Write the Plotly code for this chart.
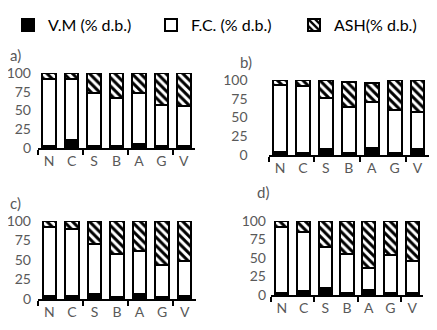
import plotly.graph_objects as go

categories = ["N", "C", "S", "B", "A", "G", "V"]

# panel a
vm_a = [3, 11, 3, 3, 6, 3, 3]
fc_a = [89, 81, 70, 63.5, 67, 54, 53]
ash_a = [8, 8, 27, 33.5, 27, 43, 44]
# panel b
vm_b = [3.5, 3, 7.5, 3, 9, 3, 7.5]
fc_b = [89.5, 89, 68, 60.5, 62, 57, 50.5]
ash_b = [7, 8, 24.5, 34.3, 25.4, 40, 42]
# panel c
vm_c = [3.4, 4, 7, 3, 7, 3, 4]
fc_c = [88.6, 86, 63.6, 55, 55, 41, 45]
ash_c = [8, 10, 29.4, 42, 38, 56, 51]
# panel d
vm_d = [3, 5, 10, 3, 7, 3, 3]
fc_d = [88.4, 80.6, 55, 53, 29, 51, 43]
ash_d = [8.6, 14.4, 35, 44, 64, 46, 54]

panels = [
    ("a)", vm_a, fc_a, ash_a),
    ("b)", vm_b, fc_b, ash_b),
    ("c)", vm_c, fc_c, ash_c),
    ("d)", vm_d, fc_d, ash_d),
]

OFF = 8  # page body margin
W, H = 437 - OFF, 330 - OFF
# pixel layout in window coords: (x0, x1, y_bottom, y_top)
boxes = [
    (38, 195, 148, 73),
    (268.6, 429, 155, 80),
    (38, 196, 299, 221),
    (271, 423, 295, 221),
]
label_pos = [(8, 55), (238, 62), (8, 203), (255, 192)]
ystandoff = [6, 20, 6, 4]

GRAY = "#595959"
FONT = "Lato"


def px_x(v):
    return (v - OFF) / W


def px_y(v):
    return 1 - (v - OFF) / H


fig = go.Figure()
idx = list(range(len(categories)))
for i, (lab, vm, fc, ash) in enumerate(panels):
    xa = "x" if i == 0 else f"x{i+1}"
    ya = "y" if i == 0 else f"y{i+1}"
    show = i == 0
    common = dict(x=idx, xaxis=xa, yaxis=ya, width=0.6, cliponaxis=False, showlegend=show)
    fig.add_trace(go.Bar(y=vm, name="V.M (% d.b.)", legendgroup="vm",
                         marker=dict(color="black", line=dict(color="black", width=2)), **common))
    fig.add_trace(go.Bar(y=fc, name="F.C. (% d.b.)", legendgroup="fc",
                         marker=dict(color="white", line=dict(color="black", width=2)), **common))
    fig.add_trace(go.Bar(y=ash, name="ASH(% d.b.)", legendgroup="ash",
                         marker=dict(color="white", line=dict(color="black", width=2),
                                     pattern=dict(shape="\\", fgcolor="black", bgcolor="white",
                                                  size=6, solidity=0.5)), **common))
    x0, x1, yb, yt = boxes[i]
    xkey = "xaxis" if i == 0 else f"xaxis{i+1}"
    ykey = "yaxis" if i == 0 else f"yaxis{i+1}"
    fig.layout[xkey] = dict(
        domain=[px_x(x0), px_x(x1)], range=[-0.5, 6.5], anchor=ya, automargin=False,
        tickvals=idx, ticktext=categories, ticks="", showgrid=False, zeroline=False,
        showline=True, linecolor="black", linewidth=2,
        tickfont=dict(family=FONT, size=14, color=GRAY), ticklabelstandoff=-1,
        minor=dict(tickvals=[-0.5, 1.5, 3.5, 5.5], ticks="outside", ticklen=5,
                   tickwidth=2, tickcolor="black", showgrid=False),
    )
    fig.layout[ykey] = dict(
        domain=[px_y(yb), px_y(yt)], range=[0, 100], anchor=xa, automargin=False,
        tickvals=[0, 25, 50, 75, 100], ticks="", showgrid=False, zeroline=False,
        showline=False, tickfont=dict(family=FONT, size=14, color=GRAY),
        ticklabelstandoff=ystandoff[i],
    )
    lx, ly = label_pos[i]
    fig.add_annotation(text=lab, x=px_x(lx), y=px_y(ly), xref="paper", yref="paper",
                       xanchor="left", yanchor="middle", showarrow=False,
                       font=dict(family=FONT, size=15, color=GRAY))

fig.update_layout(
    template="none",
    width=W, height=H, barmode="stack", plot_bgcolor="white", paper_bgcolor="white",
    margin=dict(l=0, r=0, t=0, b=0),
    legend=dict(orientation="h", x=0.0, y=1.0, xanchor="left", yanchor="top",
                font=dict(family=FONT, size=16, color="black"),
                entrywidth=98, itemwidth=30, traceorder="normal"),
)
fig.write_html("out.html")
